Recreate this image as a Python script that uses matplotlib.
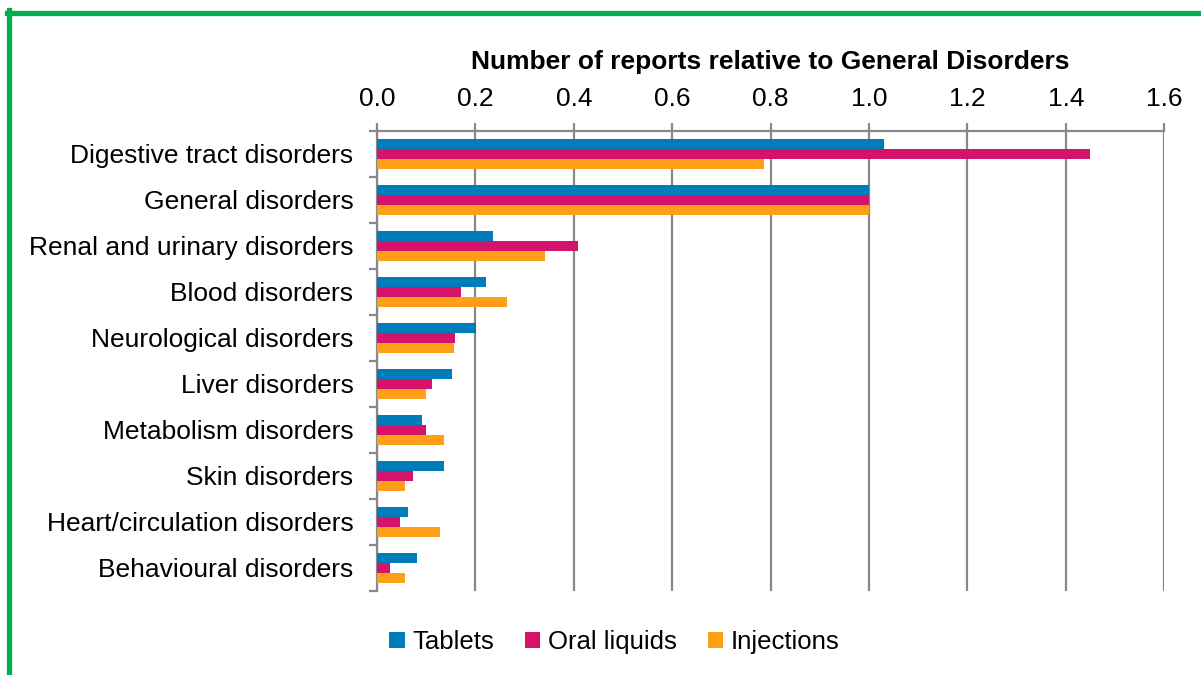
"""Horizontal grouped bar chart: reports relative to General Disorders."""

import matplotlib

matplotlib.use("Agg")
import matplotlib.pyplot as plt
import numpy as np
from matplotlib.lines import Line2D
from matplotlib.patches import Patch

plt.rcParams["font.family"] = ["Liberation Sans", "DejaVu Sans"]

# Data
categories = [
    "Digestive tract disorders",
    "General disorders",
    "Renal and urinary disorders",
    "Blood disorders",
    "Neurological disorders",
    "Liver disorders",
    "Metabolism disorders",
    "Skin disorders",
    "Heart/circulation disorders",
    "Behavioural disorders",
]
tablets = [1.030, 1.000, 0.235, 0.222, 0.201, 0.152, 0.091, 0.136, 0.062, 0.082]
oral_liquids = [1.449, 1.000, 0.408, 0.170, 0.158, 0.112, 0.099, 0.073, 0.046, 0.026]
injections = [0.786, 1.000, 0.342, 0.264, 0.157, 0.100, 0.136, 0.057, 0.129, 0.057]

series_names = ["Tablets", "Oral liquids", "Injections"]
colors = ["#007CBA", "#D6136A", "#FF9E18"]
x_ticks = [0.0, 0.2, 0.4, 0.6, 0.8, 1.0, 1.2, 1.4, 1.6]

W, H = 1201, 675
fig = plt.figure(figsize=(W / 100, H / 100), dpi=100)
ax = fig.add_axes([377 / W, 1 - 590.7 / H, (1164.3 - 377) / W, (590.7 - 130.7) / H])

y = np.arange(len(categories))
bar_h = 0.217
for i, (vals, col) in enumerate(zip([tablets, oral_liquids, injections], colors)):
    ax.barh(y + (i - 1) * bar_h, vals, height=bar_h, color=col, zorder=3)

grid_col = "#888888"
ax.set_xlim(0, 1.6)
ax.set_ylim(len(categories) - 0.5, -0.5)
ax.set_xticks(x_ticks)
ax.set_xticklabels([f"{v:.1f}" for v in x_ticks])
ax.xaxis.tick_top()
ax.xaxis.grid(True, color=grid_col, linewidth=1.6, zorder=0)
ax.tick_params(axis="x", which="major", length=6, width=1.6, color=grid_col,
               pad=8, labelsize=19)

ax.set_yticks(y)
ax.set_yticklabels(categories)
ax.set_yticks(np.arange(-0.5, len(categories)), minor=True)
ax.tick_params(axis="y", which="major", length=0, pad=17, labelsize=19)
ax.tick_params(axis="y", which="minor", length=6, width=1.6, color=grid_col)

for side in ["bottom", "right"]:
    ax.spines[side].set_visible(False)
for side in ["top", "left"]:
    ax.spines[side].set_color(grid_col)
    ax.spines[side].set_linewidth(1.6)

fig.text((470 + 1071) / 2 / W, 1 - 62 / H,
         "Number of reports relative to General Disorders",
         ha="center", va="center", fontsize=19, fontweight="bold")

handles = [Patch(facecolor=c, label=n) for c, n in zip(colors, series_names)]
fig.legend(handles=handles, loc="center", bbox_to_anchor=(614.5 / W, 1 - 642 / H),
           ncol=3, frameon=False, fontsize=18.5, handlelength=0.6, handleheight=0.6,
           handletextpad=0.3, columnspacing=1.2)

# green frame (cut off on right and bottom in the reference)
green = "#00B050"
fig.add_artist(Line2D([9.2 / W, 9.2 / W], [0, 1 - 10 / H], color=green,
                      linewidth=3.8, transform=fig.transFigure))
fig.add_artist(Line2D([7 / W, 1], [1 - 12.5 / H, 1 - 12.5 / H], color=green,
                      linewidth=3.8, transform=fig.transFigure))

fig.savefig("out.png", dpi=100)
